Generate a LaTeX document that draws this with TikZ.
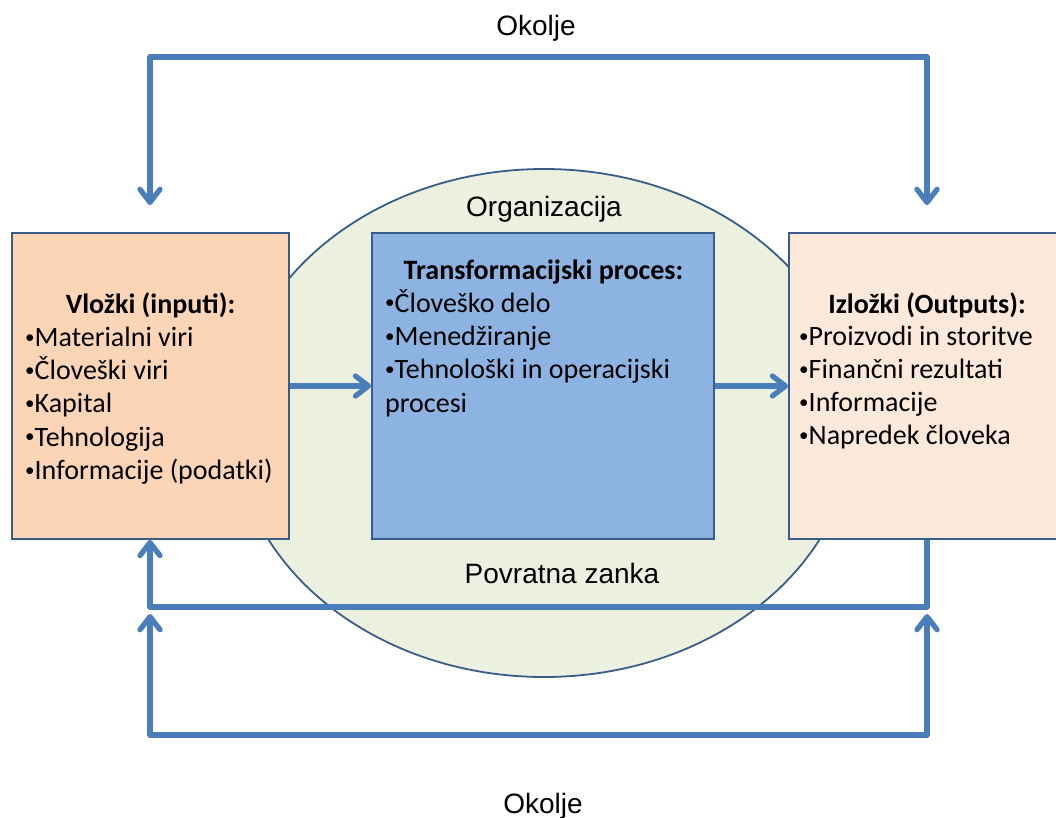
\documentclass[tikz,border=0pt]{standalone}
\usepackage{fontspec}
\usepackage{graphicx}
\setmainfont{Carlito}
\newfontfamily\arialf{Liberation Sans}
\usetikzlibrary{arrows.meta,shapes.geometric}
\definecolor{arrowblue}{HTML}{4A7EBB}
\definecolor{boxline}{HTML}{385D8A}
\definecolor{inputfill}{HTML}{FBD5B5}
\definecolor{procfill}{HTML}{8DB3E2}
\definecolor{outputfill}{HTML}{FDE9D9}
\definecolor{orgfill}{HTML}{EBF1DE}
\newcommand{\smallbul}{\raisebox{0.11em}{\scalebox{0.68}{•}}}
\begin{document}
\begin{tikzpicture}[x=1pt,y=-1pt,
  >={Straight Barb[length=13pt,width=20pt,round]},
  flow/.style={draw=arrowblue, line width=5.3pt, line join=round},
  boxshape/.style={draw=boxline, line width=1.8pt, minimum height=306pt, inner sep=0pt},
  envtext/.style={font=\arialf\fontsize{28}{34}\selectfont, anchor=base, inner sep=0pt},
  itemtext/.style={font=\fontsize{28}{34}\selectfont, anchor=base west, inner sep=0pt},
  headtext/.style={font=\bfseries\fontsize{28}{34}\selectfont, anchor=base, inner sep=0pt}]
\useasboundingbox (0,0) rectangle (1056,817);

% organisation ellipse
\node[ellipse, draw=boxline, line width=1.8pt, fill=orgfill, minimum width=620pt, minimum height=508pt, inner sep=0pt] (org) at (544,423) {};

% boxes
\node[boxshape, fill=inputfill, minimum width=277pt] (in) at (150.5,386) {};
\node[boxshape, fill=procfill, minimum width=342pt] (proc) at (543,386) {};
\node[boxshape, fill=outputfill, minimum width=277pt] (out) at (927.5,386) {};

% labels
\node[envtext] (okTop) at (536,35) {Okolje};
\node[envtext] (okBot) at (543,813) {Okolje};
\node[envtext] (orgLabel) at (544,216) {Organizacija};
\node[envtext] (fbLabel) at (562,583) {Povratna zanka};

% box texts
\node[headtext] (inHead) at (150.5,313) {Vložki (inputi):};
\foreach \t [count=\i] in {Materialni viri, Človeški viri, Kapital, Tehnologija, Informacije (podatki)}
  \node[itemtext] (inItem\i) at (25,{313+33.25*\i}) {\smallbul\t};

\node[headtext] (procHead) at (543.5,279) {Transformacijski proces:};
\node[itemtext] (procItem1) at (385,312) {\smallbul Človeško delo};
\node[itemtext] (procItem2) at (385,345.3) {\smallbul Menedžiranje};
\node[itemtext] (procItem3) at (385,378.6) {\smallbul Tehnološki in operacijski};
\node[itemtext] (procItem4) at (385,412) {procesi};

\node[headtext] (outHead) at (927,313) {Izložki (Outputs):};
\foreach \t [count=\i] in {Proizvodi in storitve, Finančni rezultati, Informacije, Napredek človeka}
  \node[itemtext] (outItem\i) at (799,{313+32.8*\i}) {\smallbul\t};

% coordinates
\coordinate (inTop) at (150,205);
\coordinate (outTop) at (927,205);
\coordinate (envTL) at (150,57);
\coordinate (envTR) at (927,57);
\coordinate (fbR) at (927,607);
\coordinate (fbL) at (150,607);
\coordinate (obL) at (150,614);
\coordinate (obR) at (927,614);
\coordinate (envBL) at (150,735);
\coordinate (envBR) at (927,735);

% connectors
\draw[flow,->] (in.east) -- (proc.west);
\draw[flow,->] (proc.east) -- (out.west);
\draw[flow,<->] (inTop) -- (envTL) -- (envTR) -- (outTop);
\draw[flow,->] (out.south -| fbR) -- (fbR) -- (fbL) -- (in.south -| fbL);
\draw[flow,<->] (obL) -- (envBL) -- (envBR) -- (obR);
\end{tikzpicture}
\end{document}
